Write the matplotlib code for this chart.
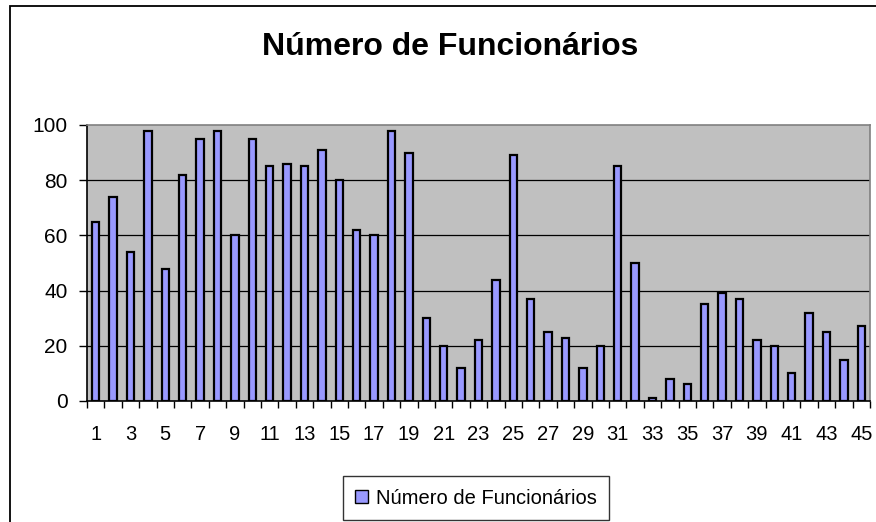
import matplotlib.pyplot as plt
from matplotlib.patches import Patch, Rectangle

# data
categories = list(range(1, 46))
funcionarios = [65, 74, 54, 98, 48, 82, 95, 98, 60, 95,
                85, 86, 85, 91, 80, 62, 60, 98, 90, 30,
                20, 12, 22, 44, 89, 37, 25, 23, 12, 20,
                85, 50, 1, 8, 6, 35, 39, 37, 22, 20,
                10, 32, 25, 15, 27]
y_ticks = [0, 20, 40, 60, 80, 100]
title = "Número de Funcionários"
series_name = "Número de Funcionários"

plt.rcParams["font.family"] = ["Liberation Sans", "DejaVu Sans"]

fig = plt.figure(figsize=(8.76, 5.22), dpi=100)
ax = fig.add_axes([87 / 876, 1 - 401 / 522, (870 - 87) / 876, (401 - 125) / 522])
ax.set_facecolor("#C0C0C0")

# grid lines behind the bars
for v in y_ticks[1:-1]:
    ax.axhline(v, color="black", linewidth=0.9, zorder=1)

ax.bar(categories, funcionarios, width=0.42, color="#9999FF",
       edgecolor="black", linewidth=1.6, zorder=2)

ax.set_xlim(0.5, 45.5)
ax.set_ylim(0, 100)
ax.set_yticks(y_ticks)

# Excel style: ticks between categories, labels on every other category
ax.set_xticks([c - 0.5 for c in categories] + [45.5])
ax.set_xticklabels([])
ax.set_xticks(categories[::2], minor=True)
ax.set_xticklabels([str(c) for c in categories[::2]], minor=True)
ax.tick_params(axis="x", which="major", direction="out", length=5, width=1, color="black")
ax.tick_params(axis="x", which="minor", length=0, pad=17, labelsize=14.5)
ax.tick_params(axis="y", direction="out", length=6, width=1, pad=8, labelsize=15)

ax.spines["left"].set_color("black")
ax.spines["bottom"].set_color("black")
ax.spines["top"].set_color("#808080")
ax.spines["right"].set_color("#808080")
for s in ax.spines.values():
    s.set_linewidth(1.2)

fig.text(450 / 876, 1 - 47 / 522, title, ha="center", va="center",
         fontsize=23, fontweight="bold")

handle = Patch(facecolor="#9999FF", edgecolor="black", linewidth=1.0)
leg = fig.legend([handle], [series_name], loc="center",
                 bbox_to_anchor=(476 / 876, 1 - 498 / 522),
                 fontsize=14.5, frameon=True, fancybox=False,
                 handlelength=0.65, handleheight=0.65, handletextpad=0.4,
                 borderpad=0.6)
leg.get_frame().set_edgecolor("black")
leg.get_frame().set_linewidth(1.0)

# chart-area border (cut off at right and bottom in the original)
fig.patches.append(Rectangle((10 / 876, -0.05), 1.2, 1 - 6 / 522 + 0.05,
                             transform=fig.transFigure, fill=False,
                             edgecolor="black", linewidth=1.3))

fig.savefig("out.png", dpi=100)
